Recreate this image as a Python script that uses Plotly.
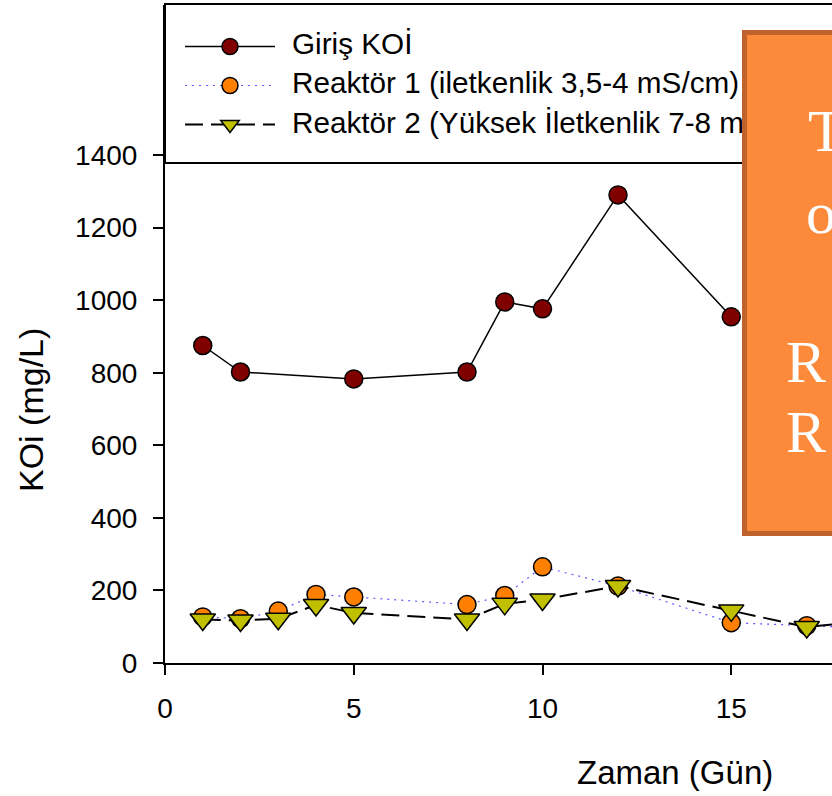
import plotly.graph_objects as go

# --- data -----------------------------------------------------------------
days_giris = [1, 2, 5, 8, 9, 10, 12, 15]
koi_giris = [875, 802, 783, 802, 995, 976, 1290, 954]

days_reaktor = [1, 2, 3, 4, 5, 8, 9, 10, 12, 15, 17, 19]
koi_reaktor1 = [127, 122, 143, 189, 182, 161, 186, 265, 212, 111, 103, 95]
koi_reaktor2 = [120, 117, 122, 160, 138, 120, 163, 175, 212, 145, 99, 121]

names = [
    "Giriş KOİ",
    "Reaktör 1 (iletkenlik 3,5-4 mS/cm)",
    "Reaktör 2 (Yüksek İletkenlik 7-8 mS/cm)",
]
x_ticks = [0, 5, 10, 15, 20]
y_ticks = [0, 200, 400, 600, 800, 1000, 1200, 1400]
box_letters = ["T", "o", "R", "R"]

FONT = "Liberation Sans, Arial, sans-serif"
W, H = 832, 796
ML, MR, MT, MB = 165, 0, 5, 133
PW, PH = W - ML - MR, H - MT - MB
X_PER_PX = 1 / 37.75
Y_PER_PX = 1 / 0.36286


def px_x(p):
    return (p - ML) / PW


def px_y(p):
    return (H - MB - p) / PH


fig = go.Figure()

fig.add_trace(go.Scatter(
    x=days_giris, y=koi_giris, name=names[0], legendgroup="g0",
    mode="lines+markers",
    line=dict(color="black", width=1.5),
    marker=dict(symbol="circle", size=18, color="#800000",
                line=dict(color="black", width=1.5)),
))
fig.add_trace(go.Scatter(
    x=days_reaktor, y=koi_reaktor1, name=names[1], legendgroup="g1",
    mode="lines+markers",
    line=dict(color="#5a5aff", width=1.2, dash="2px,5px"),
    marker=dict(symbol="circle", size=18, color="#ff8000",
                line=dict(color="black", width=1.5)),
))
fig.add_trace(go.Scatter(
    x=days_reaktor, y=koi_reaktor2, name=names[2], legendgroup="g2",
    mode="lines+markers",
    line=dict(color="black", width=2, dash="18px,8px"),
    marker=dict(symbol="triangle-down", size=22, color="#c0c000",
                line=dict(color="black", width=1.5)),
))

# legend frame
fig.add_shape(type="rect", xref="paper", yref="paper",
              x0=0, x1=1.05, y0=px_y(163), y1=px_y(4),
              line=dict(color="black", width=2), fillcolor="white",
              layer="above")

annotations = []
# legend labels (written as annotations so the text box can sit on top)
for name, ly in zip(names, [43, 82, 122]):
    annotations.append(dict(
        xref="paper", yref="paper", x=px_x(290), y=px_y(ly),
        xanchor="left", yanchor="middle", text=name, showarrow=False,
        font=dict(family=FONT, size=29.7, color="black")))

annotations += [
    # orange text box
    dict(xref="paper", yref="paper", x=px_x(742), y=px_y(30),
         xanchor="left", yanchor="top", text=" ", showarrow=False,
         width=200, height=496, borderpad=0, borderwidth=5,
         bgcolor="#fd8a3b", bordercolor="#c0622b"),
    dict(xref="paper", yref="paper", x=px_x(675), y=px_y(772),
         xanchor="center", yanchor="middle", text="Zaman (Gün)",
         showarrow=False, font=dict(family=FONT, size=33, color="black")),
    dict(xref="paper", yref="paper", x=px_x(31), y=px_y(410),
         xanchor="center", yanchor="middle", text="KOi (mg/L)", textangle=-90,
         showarrow=False, font=dict(family=FONT, size=34, color="black")),
]
letter_pos = [(806, 131), (804, 213), (784, 362), (784, 432)]
for ch, (lx, ly) in zip(box_letters, letter_pos):
    annotations.append(dict(
        xref="paper", yref="paper", x=px_x(lx), y=px_y(ly),
        xanchor="left", yanchor="middle", text=ch, showarrow=False,
        font=dict(family="Liberation Serif, Times New Roman, serif",
                  size=60, color="white")))

fig.update_layout(
    width=W, height=H,
    margin=dict(l=ML, r=MR, t=MT, b=MB, pad=0),
    paper_bgcolor="white", plot_bgcolor="white",
    font=dict(family=FONT, size=28, color="black"),
    showlegend=True,
    # legend keys only; the label text is drawn by the annotations above
    legend=dict(x=px_x(180), y=px_y(32), xanchor="left", yanchor="top",
                bgcolor="rgba(0,0,0,0)", borderwidth=0,
                font=dict(family=FONT, size=1, color="rgba(0,0,0,0)"),
                itemwidth=90, traceorder="grouped", tracegroupgap=20),
    annotations=annotations,
    xaxis=dict(range=[0, PW * X_PER_PX], tickvals=x_ticks,
               showgrid=False, zeroline=False, showline=True,
               linecolor="black", linewidth=2, ticks="outside",
               ticklen=10, tickwidth=1.5, tickcolor="black",
               ticklabelstandoff=9,
               tickfont=dict(family=FONT, size=28, color="black")),
    yaxis=dict(range=[0, PH * Y_PER_PX], tickvals=y_ticks,
               showgrid=False, zeroline=False, showline=True,
               linecolor="black", linewidth=2, ticks="outside",
               ticklen=10, tickwidth=1.5, tickcolor="black",
               ticklabelstandoff=10,
               tickfont=dict(family=FONT, size=28, color="black")),
)

fig.write_html("out.html")
